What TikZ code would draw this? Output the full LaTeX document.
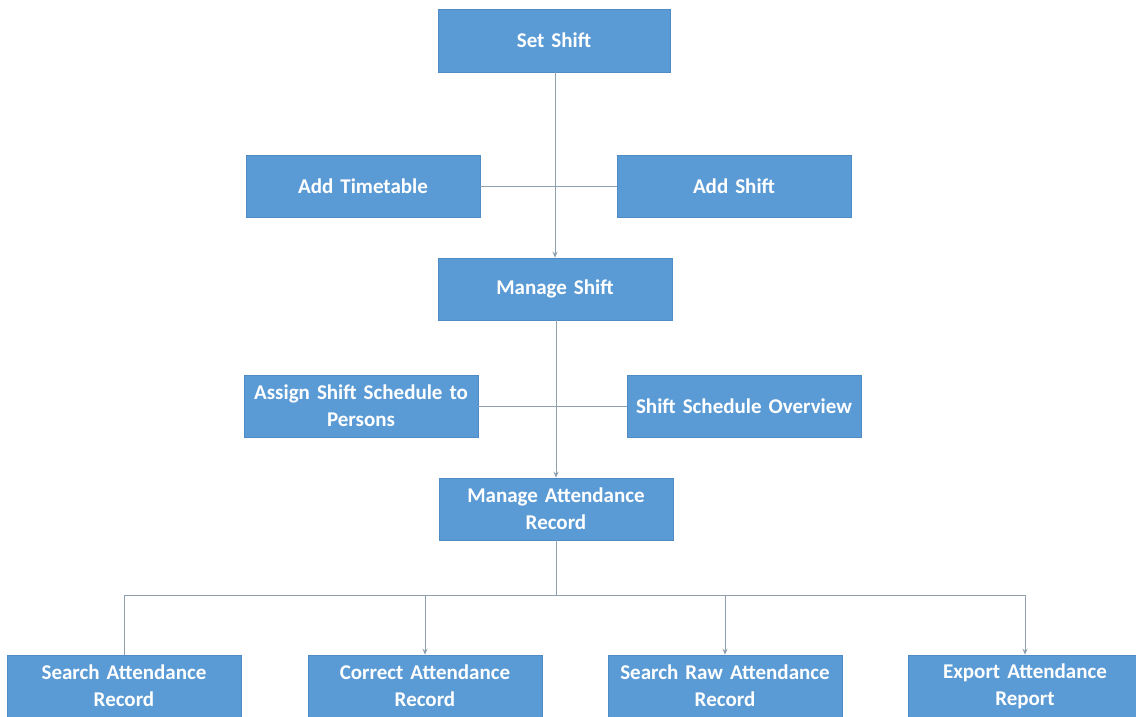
\documentclass[tikz,border=0pt]{standalone}
\usepackage{fontspec}
\setmainfont{Carlito}
\usetikzlibrary{arrows.meta}
\definecolor{boxblue}{HTML}{5B9BD5}
\definecolor{boxedge}{HTML}{4F8CC6}
\definecolor{linegray}{HTML}{8E9FB0}
\begin{document}
\begin{tikzpicture}[x=1pt,y=-1pt,
  box/.style={rectangle,fill=boxblue,draw=boxedge,line width=0.6pt,
    minimum width=234pt,minimum height=62pt,inner sep=1.5pt,
    text=white,font=\fontsize{21}{27}\selectfont\bfseries,align=center,text width=230pt},
  conn/.style={draw=linegray,line width=1pt},
  arr/.style={conn,-{Stealth[length=6pt,width=5pt]}}]
\useasboundingbox (0,0) rectangle (1136,716);
\clip (0,0) rectangle (1136,716);
\fill[white] (0,0) rectangle (1136,716);
\node[box,minimum width=232pt,text width=228pt,minimum height=63pt] (set) at (554,40.5) {Set Shift};
\node[box] (tt) at (363,186) {Add Timetable};
\node[box] (as) at (734,186) {Add Shift};
\node[box] (ms) at (555,289) {Manage Shift};
\node[box] (asp) at (361,406) {Assign Shift Schedule to\\Persons};
\node[box] (sso) at (744,406) {Shift Schedule Overview};
\node[box] (mar) at (556,509) {Manage Attendance\\Record};
\node[box] (b1) at (124,686) {Search Attendance\\Record};
\node[box] (b2) at (425,686) {Correct Attendance\\Record};
\node[box] (b3) at (725,686) {Search Raw Attendance\\Record};
\node[box] (b4) at (1025,686) {Export Attendance\\Report};
\coordinate (bus) at (556,595);
\draw[arr] (set.south -| ms.north) -- (ms.north);
\draw[conn] (tt.east) -- (as.west);
\draw[arr] (ms.south -| mar.north) -- (mar.north);
\draw[conn] (asp.east) -- (sso.west);
\draw[conn] (mar.south) -- (bus);
\draw[conn] (b1.north) -- (b1.north |- bus) -- (b4.north |- bus);
\draw[arr] (b2.north |- bus) -- (b2.north);
\draw[arr] (b3.north |- bus) -- (b3.north);
\draw[arr] (b4.north |- bus) -- (b4.north);
\end{tikzpicture}
\end{document}
